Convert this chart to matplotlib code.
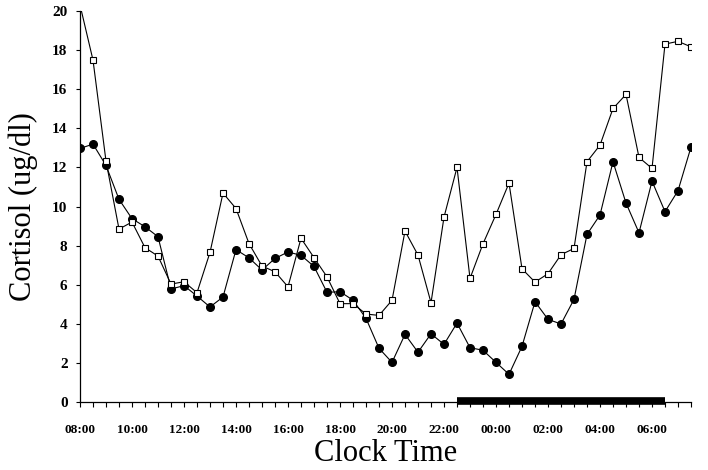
import matplotlib
matplotlib.use('Agg')
import matplotlib.pyplot as plt
import numpy as np
import pandas as pd

# half-hourly samples, 08:00 to 07:30 next day
times = pd.date_range('2000-01-01 08:00', '2000-01-02 07:30', freq='30min')

filled = [12.97, 13.19, 12.10, 10.37, 9.38, 8.97, 8.46, 5.79, 5.96, 5.43,
          4.87, 5.38, 7.80, 7.38, 6.76, 7.35, 7.68, 7.51, 6.94, 5.62,
          5.65, 5.22, 4.29, 2.76, 2.04, 3.47, 2.56, 3.50, 2.96, 4.05,
          2.79, 2.66, 2.04, 1.43, 2.86, 5.14, 4.24, 4.00, 5.26, 8.58,
          9.57, 12.29, 10.18, 8.66, 11.30, 9.74, 10.81, 13.04]

open_sq = [20.3, 17.48, 12.32, 8.85, 9.21, 7.90, 7.47, 6.04, 6.16, 5.60,
           7.66, 10.69, 9.90, 8.11, 6.96, 6.67, 5.90, 8.38, 7.39, 6.41,
           5.04, 5.04, 4.51, 4.44, 5.21, 8.75, 7.52, 5.09, 9.46, 12.00,
           6.33, 8.10, 9.60, 11.20, 6.82, 6.14, 6.57, 7.54, 7.86, 12.29,
           13.14, 15.01, 15.73, 12.51, 11.95, 18.30, 18.44, 18.16]

tick_labels = ['08:00', '10:00', '12:00', '14:00', '16:00', '18:00',
               '20:00', '22:00', '00:00', '02:00', '04:00', '06:00']

sleep_start = '2000-01-01 22:30'
sleep_end = '2000-01-02 06:30'

t0 = times[0]
hrs = (times - t0).total_seconds() / 3600.0
s0 = (pd.Timestamp(sleep_start) - t0).total_seconds() / 3600.0
s1 = (pd.Timestamp(sleep_end) - t0).total_seconds() / 3600.0

plt.rcParams['font.family'] = ['Liberation Serif', 'DejaVu Serif']

fig = plt.figure(figsize=(7.08, 4.70), dpi=100)
ax = fig.add_axes([0.113, 0.144, 0.863, 0.833])

ax.plot(hrs, filled, color='black', lw=0.8, marker='o', ms=5.5,
        mfc='black', mec='black', zorder=3)
ax.plot(hrs, open_sq, color='black', lw=0.8, marker='s', ms=5,
        mfc='white', mec='black', mew=0.8, zorder=4)

# sleep period bar on the time axis
ax.plot([s0, s1], [0.05, 0.05], color='black', lw=5.5,
        solid_capstyle='butt', clip_on=False, zorder=5)

ax.set_xlim(hrs[0], hrs[-1])
ax.set_ylim(0, 20)
ax.set_yticks(range(0, 21, 2))
ax.set_xticks(np.arange(0, 23, 2))
ax.set_xticklabels(tick_labels)
ax.set_xticks(hrs, minor=True)

for s in ['top', 'right']:
    ax.spines[s].set_visible(False)
ax.spines['left'].set_linewidth(0.9)
ax.spines['bottom'].set_linewidth(0.9)

ax.tick_params(axis='y', direction='out', length=3, width=0.8, pad=6,
               labelsize=11)
ax.tick_params(axis='x', which='both', direction='out', length=3.5,
               width=0.8)
ax.tick_params(axis='x', which='major', pad=12, labelsize=9.5)
for lab in ax.get_xticklabels() + ax.get_yticklabels():
    lab.set_fontweight('bold')

ax.set_xlabel('Clock Time', fontsize=22, labelpad=2)
ax.set_ylabel('Cortisol (ug/dl)', fontsize=22, labelpad=10)

fig.savefig('out.png', dpi=100)
